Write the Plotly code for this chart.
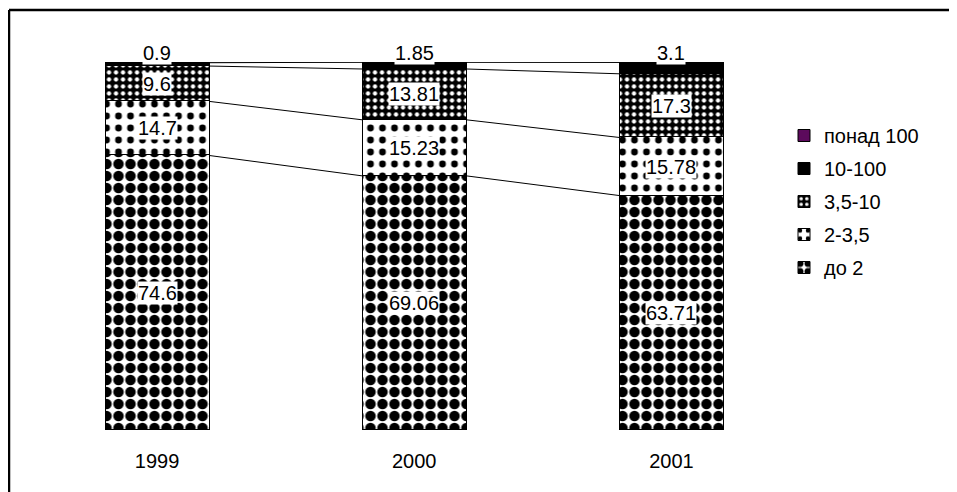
import numpy as np
import plotly.graph_objects as go

years = ["1999", "2000", "2001"]
series_names = ["до 2", "2-3,5", "3,5-10", "10-100", "понад 100"]
do2 = [74.6, 69.06, 63.71]
s2_35 = [14.7, 15.23, 15.78]
s35_10 = [9.6, 13.81, 17.3]
s10_100 = [0.9, 1.85, 3.1]
ponad100 = [0.2, 0.05, 0.11]

values = [do2, s2_35, s35_10, s10_100, ponad100]

OFF = 8  # page body margin
W, H = 957 - OFF, 492 - OFF
x = np.arange(len(years))
bw = 0.405
FONT = "Liberation Sans, Arial, sans-serif"
FS = 20


def px_x(px):
    return (px - OFF) / W


def px_y(py):
    return 1 - (py - OFF) / H


patterns = [
    dict(shape=".", fgcolor="black", bgcolor="white", size=12, solidity=0.6, fgopacity=1),
    dict(shape=".", fgcolor="black", bgcolor="white", size=12, solidity=0.25, fgopacity=1),
    dict(shape=".", fgcolor="white", bgcolor="black", size=7, solidity=0.3, fgopacity=1),
    None,
    None,
]
colors = ["white", "white", "black", "black", "#5c0a5c"]

fig = go.Figure()
n = len(series_names)
for j, (name, vals, pat, col) in enumerate(zip(series_names, values, patterns, colors)):
    marker = dict(color=col, line=dict(color="black", width=1))
    if pat is not None:
        marker["pattern"] = pat
    fig.add_trace(go.Bar(x=x, y=vals, name=name, width=bw, marker=marker,
                         legendgroup=name, legendrank=n - j))

# series lines between bars
cum = np.cumsum(np.array(values), axis=0)
for k in range(cum.shape[0]):
    for i in range(len(years) - 1):
        fig.add_trace(go.Scatter(
            x=[x[i] + bw / 2, x[i + 1] - bw / 2],
            y=[cum[k, i], cum[k, i + 1]],
            mode="lines", line=dict(color="black", width=1),
            showlegend=False, hoverinfo="skip"))

annotations = []
for k in range(3):
    for i in range(len(years)):
        v = values[k][i]
        annotations.append(dict(
            x=x[i], y=cum[k, i] - v / 2, xref="x", yref="y",
            text=f"{v:g}", showarrow=False, bgcolor="white", borderpad=0,
            font=dict(family=FONT, size=FS, color="black")))
for i in range(len(years)):
    annotations.append(dict(
        x=x[i], y=cum[-1, i], xref="x", yref="y", yanchor="bottom", yshift=-3,
        text=f"{s10_100[i]:g}", showarrow=False, bgcolor="white", borderpad=0,
        font=dict(family=FONT, size=FS, color="black")))

fig.update_layout(
    width=W, height=H,
    margin=dict(l=0, r=0, t=0, b=0),
    paper_bgcolor="white", plot_bgcolor="white",
    barmode="stack", bargap=0,
    font=dict(family=FONT, size=FS, color="black"),
    xaxis=dict(domain=[px_x(28.5), px_x(800)], range=[-0.5, 2.5],
               tickvals=x, ticktext=years, showgrid=False, zeroline=False,
               showline=False, ticks="", ticklabelstandoff=17,
               tickfont=dict(family=FONT, size=FS, color="black")),
    yaxis=dict(domain=[px_y(430), px_y(62)], range=[0, 100],
               showgrid=False, zeroline=False, showline=False,
               showticklabels=False, ticks=""),
    legend=dict(x=px_x(784), y=px_y(116), xanchor="left", yanchor="top",
                traceorder="grouped", tracegroupgap=4,
                font=dict(family=FONT, size=FS, color="black"),
                bgcolor="rgba(0,0,0,0)", itemwidth=30),
    annotations=annotations,
    shapes=[
        dict(type="line", xref="paper", yref="paper",
             x0=px_x(9), x1=px_x(9), y0=0, y1=px_y(10),
             line=dict(color="black", width=2.5)),
        dict(type="line", xref="paper", yref="paper",
             x0=px_x(9), x1=1.2, y0=px_y(10), y1=px_y(10),
             line=dict(color="black", width=2.5)),
    ],
    showlegend=True,
)

fig.write_html("out.html")
